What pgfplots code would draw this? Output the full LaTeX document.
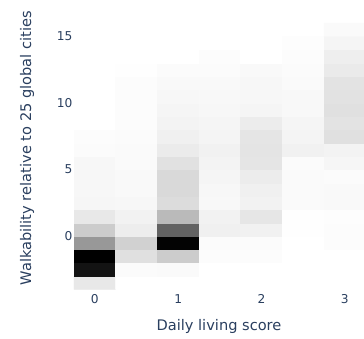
\documentclass[border=0pt]{standalone}
\usepackage{fontspec}
\setmainfont{DejaVu Sans}
\usepackage{pgfplots}
\pgfplotsset{compat=1.18}
\definecolor{plotlytext}{HTML}{2A3F5F}

\begin{document}
\begin{tikzpicture}
\useasboundingbox (-74pt,-49pt) rectangle (290pt,289.3pt);
\begin{axis}[
    scale only axis,
    width=290pt, height=282.3pt,
    xmin=-0.25, xmax=3.23,
    ymin=-4, ymax=17.2,
    xtick={0,1,2,3},
    ytick={0,5,10,15},
    axis line style={draw=none},
    major tick length=0pt,
    /pgf/number format/assume math mode=true,
    tick label style={font=\fontsize{12.2}{14}\selectfont, text=plotlytext},
    xticklabel style={anchor=north, inner sep=0pt, yshift=-5pt},
    yticklabel style={anchor=east, inner sep=0pt, xshift=-1.5pt},
    label style={font=\fontsize{14.6}{17}\selectfont, text=plotlytext},
    xlabel={Daily living score},
    ylabel={Walkability relative to 25 global cities},
    xlabel style={at={(axis description cs:0.5,-0.1452)}, anchor=base},
    ylabel style={at={(axis description cs:-0.162,0.5)}, anchor=center, rotate=0},
    colormap={greys}{gray(0cm)=(1); gray(1cm)=(0)},
    point meta min=0, point meta max=100,
]
% darkness of each bin, 0 = white, 100 = black
\addplot[matrix plot*, mesh/cols=7, point meta=explicit] table[meta=c] {
x y c
0 -3.5 9
0.5 -3.5 0
1 -3.5 0
1.5 -3.5 0
2 -3.5 0
2.5 -3.5 0
3 -3.5 0
0 -2.5 92
0.5 -2.5 1.5
1 -2.5 2
1.5 -2.5 0
2 -2.5 0
2.5 -2.5 0
3 -2.5 0
0 -1.5 100
0.5 -1.5 12
1 -1.5 20
1.5 -1.5 1
2 -1.5 1
2.5 -1.5 0
3 -1.5 0
0 -0.5 40
0.5 -0.5 18
1 -0.5 98
1.5 -0.5 1.5
2 -0.5 1.6
2.5 -0.5 0
3 -0.5 1.2
0 0.5 20
0.5 0.5 7
1 0.5 61
1.5 0.5 6
2 0.5 5.5
2.5 0.5 0.5
3 0.5 1.2
0 1.5 9
0.5 1.5 5
1 1.5 27
1.5 1.5 5
2 1.5 9.8
2.5 1.5 0.5
3 1.5 0.8
0 2.5 3.5
0.5 2.5 3
1 2.5 13.7
1.5 2.5 2.7
2 2.5 5
2.5 2.5 2
3 2.5 2.4
0 3.5 3
0.5 3.5 2.5
1 3.5 14.9
1.5 3.5 3
2 3.5 6
2.5 3.5 2
3 3.5 2.4
0 4.5 3
0.5 4.5 2.5
1 4.5 14.9
1.5 4.5 4
2 4.5 7.5
2.5 4.5 2
3 4.5 1.6
0 5.5 3
0.5 5.5 2
1 5.5 11.8
1.5 5.5 4.5
2 5.5 10.2
2.5 5.5 1.6
3 5.5 3.5
0 6.5 1.5
0.5 6.5 2
1 6.5 7.8
1.5 6.5 5.5
2 6.5 10.6
2.5 6.5 5.5
3 6.5 4.7
0 7.5 1.2
0.5 7.5 1.5
1 7.5 5.9
1.5 7.5 4.3
2 7.5 10.2
2.5 7.5 4.3
3 7.5 12.2
0 8.5 0
0.5 8.5 1
1 8.5 4.7
1.5 8.5 3.9
2 8.5 7.5
2.5 8.5 3.9
3 8.5 11
0 9.5 0
0.5 9.5 1
1 9.5 3.9
1.5 9.5 3.1
2 9.5 3.9
2.5 9.5 2.7
3 9.5 12.2
0 10.5 0
0.5 10.5 1
1 10.5 3.1
1.5 10.5 2.7
2 10.5 3.1
2.5 10.5 2.7
3 10.5 11.4
0 11.5 0
0.5 11.5 1
1 11.5 2.4
1.5 11.5 2.4
2 11.5 3.1
2.5 11.5 2
3 11.5 11
0 12.5 0
0.5 12.5 0.5
1 12.5 1.6
1.5 12.5 1.6
2 12.5 2.4
2.5 12.5 1.6
3 12.5 8.2
0 13.5 0
0.5 13.5 0
1 13.5 0
1.5 13.5 1.2
2 13.5 0
2.5 13.5 1.2
3 13.5 6.7
0 14.5 0
0.5 14.5 0
1 14.5 0
1.5 14.5 0
2 14.5 0
2.5 14.5 0.8
3 14.5 3.9
0 15.5 0
0.5 15.5 0
1 15.5 0
1.5 15.5 0
2 15.5 0
2.5 15.5 0
3 15.5 2
};
\end{axis}
\end{tikzpicture}
\end{document}
